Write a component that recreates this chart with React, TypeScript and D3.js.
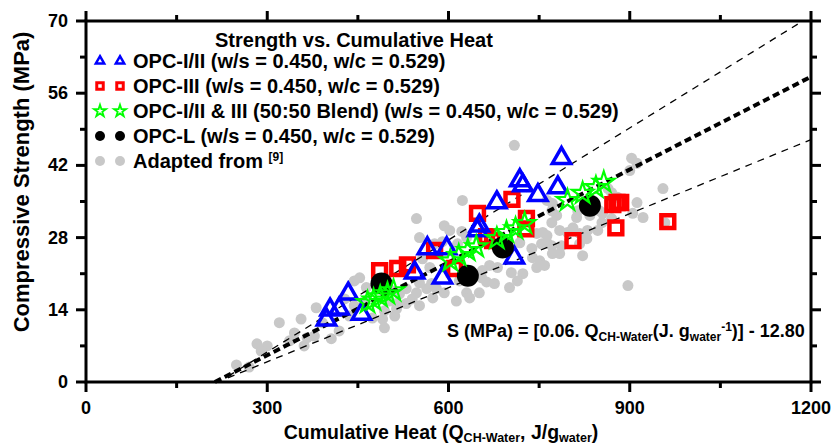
import React from "react";
import * as d3 from "d3";

const W = 836;
const H = 447;

const xMajorTicks = [0, 300, 600, 900, 1200];
const xMinorTicks = [150, 450, 750, 1050];
const yMajorTicks = [0, 14, 28, 42, 56, 70];
const yMinorTicks = [7, 21, 35, 49, 63];

// OPC-I/II (blue triangles): [Q, S]
const opc12Q = [398, 404, 419, 434, 456, 544, 565, 597, 590, 651, 648, 680, 709, 718, 723, 748, 781, 787];
const opc12S = [12.1, 14.0, 14.2, 17.1, 13.2, 21.2, 25.9, 25.9, 20.2, 30.3, 29.4, 34.8, 24.1, 39.1, 38.1, 36.2, 37.7, 43.4];

// OPC-III (red squares)
const opc3Q = [486, 516, 532, 577, 610, 648, 663, 673, 705, 729, 728, 806, 872, 879, 885, 877, 963];
const opc3S = [21.6, 22.0, 22.7, 25.5, 22.0, 32.7, 28.2, 27.4, 35.4, 31.7, 29.7, 27.4, 34.4, 34.8, 34.8, 29.9, 31.1];

// Blend (green stars)
const blendQ = [466, 476, 487, 499, 509, 603, 617, 632, 646, 680, 696, 711, 726, 797, 822, 844, 857];
const blendS = [15.4, 15.9, 16.5, 17.1, 17.7, 23.5, 24.5, 25.5, 26.2, 27.8, 29.0, 29.7, 30.7, 35.2, 36.6, 37.7, 38.7];

// OPC-L (black circles)
const opcLQ = [489, 632, 690, 834];
const opcLS = [19.1, 20.6, 26.1, 34.2];

// Adapted from [9] (grey circles)
const litQ = [249, 270, 283, 300, 290, 320, 345, 356, 361, 366, 381, 391, 406, 419, 436, 428, 378, 337,
  444, 453, 464, 474, 491, 511, 514, 494, 540, 552, 552, 574, 580, 615, 613, 630, 623, 547, 593, 602, 622, 630,
  577, 590, 746, 756, 754, 763, 739, 751, 746, 759, 723, 714, 704, 681, 668, 656, 655, 663, 676, 701, 651, 593,
  564, 547, 530, 519, 502, 530, 514, 494, 569, 557, 572, 709, 903, 912, 900, 955, 880, 870, 864, 905, 922, 912,
  850, 834, 812, 814, 772, 763, 771, 779, 771, 854, 830, 847, 817, 797, 784, 763, 771, 787, 817, 822, 738, 772,
  718, 897, 958, 855, 870, 829, 784, 806, 552, 507, 618, 635, 461, 444];
const litS = [3.3, 2.9, 7.4, 7.0, 6.0, 11.5, 9.5, 12.2, 7.0, 8.6, 14.4, 11.5, 8.4, 9.9, 12.8, 16.1, 8.9, 8.0,
  19.6, 20.2, 18.3, 12.4, 12.2, 12.8, 15.2, 10.5, 16.1, 14.8, 28.0, 16.3, 18.1, 26.8, 15.7, 17.3, 35.2, 31.7, 30.3, 29.4, 29.2, 28.0,
  26.8, 27.2, 28.8, 29.0, 26.8, 27.0, 24.1, 23.5, 22.2, 22.6, 21.0, 19.6, 21.2, 22.2, 22.6, 21.6, 20.2, 19.4, 19.1, 18.3, 17.3, 17.3,
  18.1, 17.3, 18.1, 17.1, 15.7, 15.2, 14.2, 13.8, 22.2, 23.9, 19.1, 45.9, 43.4, 42.4, 41.0, 37.5, 35.8, 36.7, 37.5, 32.7, 31.9, 34.8,
  33.2, 32.3, 31.9, 33.2, 34.6, 35.2, 33.2, 32.3, 30.9, 30.9, 29.4, 29.4, 28.8, 29.0, 29.4, 28.4, 26.4, 26.4, 26.8, 24.5, 25.9, 24.9,
  27.0, 18.7, 30.9, 32.7, 31.7, 27.8, 24.9, 29.9, 19.2, 17.7, 19.6, 16.3, 15.7, 14.8];

// Regression line and bounds: [Q, S] end points
const fitLine: [number, number][] = [[213.3, 0], [1200, 59.2]];
const upperBound: [number, number][] = [[235, 1.1], [1178, 69.4]];
const lowerBound: [number, number][] = [[235, 0.8], [1200, 47.0]];

const legendLabels = [
  "OPC-I/II (w/s = 0.450, w/c = 0.529)",
  "OPC-III (w/s = 0.450, w/c = 0.529)",
  "OPC-I/II & III (50:50 Blend) (w/s = 0.450, w/c = 0.529)",
  "OPC-L (w/s = 0.450, w/c = 0.529)",
  "Adapted from ",
];

const FONT = "'Liberation Sans', Arial, Helvetica, sans-serif";
const BLUE = "#0000ff";
const RED = "#ff0000";
const GREEN = "#00ff00";
const GREY = "#c8c8c8";

export default function App() {
  const x = d3.scaleLinear().domain([0, 1200]).range([86, 811]);
  const y = d3.scaleLinear().domain([0, 70]).range([382, 21]);
  const left = x(0), right = x(1200), top = y(70), bottom = y(0);

  const tri = d3.symbol(d3.symbolTriangle, 145)()!;
  const sq = d3.symbol(d3.symbolSquare, 165)()!;
  const star = d3.symbol(d3.symbolStar, 140)()!;
  const triS = d3.symbol(d3.symbolTriangle, 30)()!;
  const sqS = d3.symbol(d3.symbolSquare, 42)()!;
  const starS = d3.symbol(d3.symbolStar, 45)()!;

  const line = d3.line<[number, number]>().x((d) => x(d[0])).y((d) => y(d[1]));

  const legendRows = [61, 86, 111, 136, 161];

  return (
    <svg width={W} height={H} style={{ position: "absolute", left: 0, top: 0, background: "#fff" }} fontFamily={FONT}>
      <rect width={W} height={H} fill="#fff" />
      {/* grey literature data */}
      {litQ.map((q, i) => (
        <circle key={"g" + i} cx={x(q)} cy={y(litS[i])} r={5.5} fill={GREY} />
      ))}
      {/* lines */}
      <path d={line(upperBound)!} stroke="#000" strokeWidth={1.3} strokeDasharray="7,6" fill="none" />
      <path d={line(lowerBound)!} stroke="#000" strokeWidth={1.3} strokeDasharray="7,6" fill="none" />
      <path d={line(fitLine)!} stroke="#000" strokeWidth={4} strokeDasharray="7,4" fill="none" />
      {/* OPC-III squares */}
      {opc3Q.map((q, i) => (
        <path key={"s" + i} d={sq} transform={`translate(${x(q)},${y(opc3S[i])})`} fill="none" stroke={RED} strokeWidth={4.5} />
      ))}
      {/* OPC-I/II triangles */}
      {opc12Q.map((q, i) => (
        <path key={"t" + i} d={tri} transform={`translate(${x(q)},${y(opc12S[i])})`} fill="none" stroke={BLUE} strokeWidth={3.5} />
      ))}
      {/* OPC-L circles */}
      {opcLQ.map((q, i) => (
        <circle key={"c" + i} cx={x(q)} cy={y(opcLS[i])} r={11} fill="#000" />
      ))}
      {/* Blend stars */}
      {blendQ.map((q, i) => (
        <path key={"st" + i} d={star} transform={`translate(${x(q)},${y(blendS[i])})`} fill="none" stroke={GREEN} strokeWidth={2.2} />
      ))}

      {/* frame */}
      <rect x={left} y={top} width={right - left} height={bottom - top} fill="none" stroke="#000" strokeWidth={3} />
      {xMajorTicks.map((t) => (
        <g key={"xm" + t}>
          <line x1={x(t)} x2={x(t)} y1={bottom} y2={bottom + 10} stroke="#000" strokeWidth={3} />
          <line x1={x(t)} x2={x(t)} y1={top} y2={top - 10} stroke="#000" strokeWidth={3} />
          <text x={x(t)} y={bottom + 32} textAnchor="middle" fontSize={18} fontWeight="bold">{t}</text>
        </g>
      ))}
      {xMinorTicks.map((t) => (
        <g key={"xn" + t}>
          <line x1={x(t)} x2={x(t)} y1={bottom} y2={bottom + 6} stroke="#000" strokeWidth={3} />
          <line x1={x(t)} x2={x(t)} y1={top} y2={top - 6} stroke="#000" strokeWidth={3} />
        </g>
      ))}
      {yMajorTicks.map((t) => (
        <g key={"ym" + t}>
          <line x1={left} x2={left - 10} y1={y(t)} y2={y(t)} stroke="#000" strokeWidth={3} />
          <line x1={right} x2={right + 10} y1={y(t)} y2={y(t)} stroke="#000" strokeWidth={3} />
          <text x={left - 18} y={y(t) + 6} textAnchor="end" fontSize={18} fontWeight="bold">{t}</text>
        </g>
      ))}
      {yMinorTicks.map((t) => (
        <g key={"yn" + t}>
          <line x1={left} x2={left - 6} y1={y(t)} y2={y(t)} stroke="#000" strokeWidth={3} />
          <line x1={right} x2={right + 6} y1={y(t)} y2={y(t)} stroke="#000" strokeWidth={3} />
        </g>
      ))}

      {/* axis titles */}
      <text x={441} y={439} textAnchor="middle" fontSize={19.5} fontWeight="bold">
        Cumulative Heat (Q<tspan fontSize={12.5} dy={3}>CH-Water</tspan>
        <tspan dy={-3}>, J/g</tspan><tspan fontSize={12.5} dy={3}>water</tspan><tspan dy={-3}>)</tspan>
      </text>
      <text transform={`translate(29,182) rotate(-90)`} textAnchor="middle" fontSize={22} fontWeight="bold">
        Compressive Strength (MPa)
      </text>

      {/* equation */}
      <text x={447} y={337} fontSize={18} fontWeight="bold">
        S (MPa) = [0.06. Q<tspan fontSize={12} dy={4}>CH-Water</tspan>
        <tspan dy={-4}>(J. g</tspan><tspan fontSize={12} dy={4}>water</tspan>
        <tspan fontSize={12} dy={-10}>-1</tspan><tspan dy={6}>)] - 12.80</tspan>
      </text>

      {/* legend */}
      <text x={215} y={47} fontSize={20} fontWeight="bold">Strength vs. Cumulative Heat</text>
      {[100, 120].map((lx) => (
        <g key={"lg" + lx}>
          <path d={triS} transform={`translate(${lx},${legendRows[0]})`} fill="none" stroke={BLUE} strokeWidth={2.5} />
          <path d={sqS} transform={`translate(${lx},${legendRows[1]})`} fill="none" stroke={RED} strokeWidth={3} />
          <path d={starS} transform={`translate(${lx},${legendRows[2]})`} fill="none" stroke={GREEN} strokeWidth={1.8} />
          <circle cx={lx} cy={legendRows[3]} r={5} fill="#000" />
          <circle cx={lx} cy={legendRows[4]} r={5} fill={GREY} />
        </g>
      ))}
      {legendLabels.map((lab, i) => (
        <text key={"ll" + i} x={133} y={legendRows[i] + 7} fontSize={20} fontWeight="bold">
          {lab}
          {i === 4 && <tspan fontSize={12} dy={-7}>[9]</tspan>}
        </text>
      ))}
    </svg>
  );
}
